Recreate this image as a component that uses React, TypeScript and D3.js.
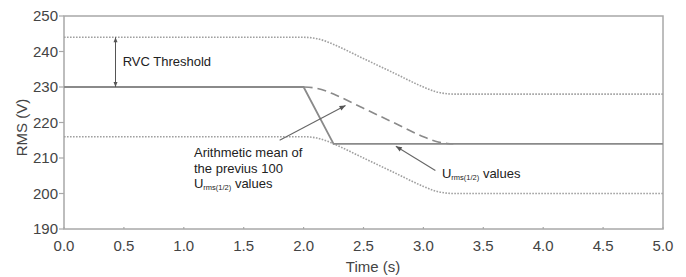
import React from "react";
import * as d3 from "d3";

const W = 686;
const H = 277;
const margin = { top: 16, right: 23, bottom: 48, left: 64 };

const xTicks = [0, 0.5, 1.0, 1.5, 2.0, 2.5, 3.0, 3.5, 4.0, 4.5, 5.0];
const yTicks = [190, 200, 210, 220, 230, 240, 250];

// U_rms(1/2) values (solid)
const solidTime = [0, 2.0, 2.25, 5.0];
const solidValue = [230, 230, 214, 214];

// Arithmetic mean of previous 100 values (dashed)
const meanTime = [2.0, 2.1, 2.2, 2.25, 2.5, 2.75, 3.0, 3.1, 3.2, 3.25];
const meanValue = [230, 229.7, 228.7, 228, 224, 220, 216, 214.7, 214.1, 214];

// Threshold envelopes (dotted)
const envTime = [0, 2.0, 2.1, 2.2, 2.25, 2.5, 2.75, 3.0, 3.1, 3.2, 3.25, 5.0];
const upperValue = [244, 244, 243.7, 242.7, 242, 238, 234, 230, 228.7, 228.1, 228, 228];
const lowerValue = [216, 216, 215.7, 214.7, 214, 210, 206, 202, 200.7, 200.1, 200, 200];

export default function App() {
  React.useEffect(() => {
    document.body.style.margin = "0";
  }, []);

  const x = d3.scaleLinear().domain([0, 5]).range([margin.left, W - margin.right]);
  const y = d3.scaleLinear().domain([190, 250]).range([H - margin.bottom, margin.top]);

  const line = d3
    .line<[number, number]>()
    .x((d) => x(d[0]))
    .y((d) => y(d[1]))
    .curve(d3.curveMonotoneX);
  const lineLin = d3
    .line<[number, number]>()
    .x((d) => x(d[0]))
    .y((d) => y(d[1]));

  const zip = (a: number[], b: number[]) => a.map((t, i) => [t, b[i]] as [number, number]);

  const axisColor = "#a8a8a8";
  const tickColor = "#444";
  const font = "'Liberation Sans', Arial, sans-serif";
  const x0 = x(0), x1 = x(5), y0 = y(190), y1 = y(250);

  // arrow helper
  const arrowHead = (fx: number, fy: number, tx: number, ty: number, len = 6, wid = 2.5) => {
    const ang = Math.atan2(ty - fy, tx - fx);
    const bx = tx - len * Math.cos(ang);
    const by = ty - len * Math.sin(ang);
    const px = -Math.sin(ang) * wid;
    const py = Math.cos(ang) * wid;
    return `M${tx},${ty}L${bx + px},${by + py}L${bx - px},${by - py}Z`;
  };

  const a1 = { fx: x(1.8), fy: y(215.0), tx: x(2.35), ty: y(224.8) };
  const a2 = { fx: x(3.1), fy: y(206.5), tx: x(2.77), ty: y(213.3) };
  const va = { x: x(0.43), top: y(244), bot: y(230) };

  return (
    <svg width={W} height={H} style={{ display: "block", background: "#fff" }}>
      {/* frame */}
      <rect x={x0} y={y1} width={x1 - x0} height={y0 - y1} fill="none" stroke={axisColor} strokeWidth={1.5} />

      {/* y ticks */}
      {yTicks.map((t) => (
        <g key={"y" + t}>
          <line x1={x0 - 5} x2={x0} y1={y(t)} y2={y(t)} stroke={axisColor} strokeWidth={1.2} />
          <text x={x0 - 6} y={y(t)} dy="0.35em" textAnchor="end" fontSize={15} fill={tickColor} fontFamily={font}>
            {t}
          </text>
        </g>
      ))}
      {/* x ticks */}
      {xTicks.map((t) => (
        <g key={"x" + t}>
          <line x1={x(t)} x2={x(t)} y1={y0} y2={y0 - 2} stroke={axisColor} strokeWidth={1.2} />
          <text x={x(t)} y={y0 + 17} dy="0.35em" textAnchor="middle" fontSize={15} fill={tickColor} fontFamily={font}>
            {t.toFixed(1)}
          </text>
        </g>
      ))}

      <text
        transform={`translate(22,${(y0 + y1) / 2 + 5}) rotate(-90)`}
        textAnchor="middle"
        dy="0.35em"
        fontSize={15}
        fill={tickColor}
        fontFamily={font}
      >
        RMS (V)
      </text>
      <text x={373} y={267} dy="0.35em" textAnchor="middle" fontSize={15} fill={tickColor} fontFamily={font}>
        Time (s)
      </text>

      {/* envelopes */}
      <path d={line(zip(envTime, upperValue)) || ""} fill="none" stroke="#a0a0a0" strokeWidth={1.6} strokeDasharray="1.6,1.4" />
      <path d={line(zip(envTime, lowerValue)) || ""} fill="none" stroke="#a0a0a0" strokeWidth={1.6} strokeDasharray="1.6,1.4" />

      {/* solid values */}
      <path d={lineLin(zip(solidTime, solidValue)) || ""} fill="none" stroke="#8a8a8a" strokeWidth={1.8} />

      {/* mean dashed */}
      <path d={line(zip(meanTime, meanValue)) || ""} fill="none" stroke="#8a8a8a" strokeWidth={1.6} strokeDasharray="9,5" />

      {/* RVC threshold arrow */}
      <line x1={va.x} x2={va.x} y1={va.top} y2={va.bot} stroke="#555" strokeWidth={1} />
      <path d={arrowHead(va.x, va.bot, va.x, va.top, 5, 2)} fill="#555" />
      <path d={arrowHead(va.x, va.top, va.x, va.bot, 5, 2)} fill="#555" />
      <text x={x(0.49)} y={y(237.2)} dy="0.35em" fontSize={13} fill="#222" fontFamily={font}>
        RVC Threshold
      </text>

      {/* mean annotation */}
      <line x1={a1.fx} y1={a1.fy} x2={a1.tx} y2={a1.ty} stroke="#666" strokeWidth={1.1} />
      <path d={arrowHead(a1.fx, a1.fy, a1.tx, a1.ty)} fill="#555" />
      <text fontSize={13} fill="#222" fontFamily={font}>
        <tspan x={x(1.085)} y={y(211.6)} dy="0.35em">Arithmetic mean of</tspan>
        <tspan x={x(1.085)} y={y(207.1)} dy="0.35em">the previus 100</tspan>
      </text>
      <text x={x(1.085)} y={y(202.8)} dy="0.35em" fontSize={13} fill="#222" fontFamily={font}>
        U<tspan fontSize={7.5} dy="2">rms(1/2)</tspan>
        <tspan dy="-2"> values</tspan>
      </text>

      {/* Urms annotation */}
      <line x1={a2.fx} y1={a2.fy} x2={a2.tx} y2={a2.ty} stroke="#666" strokeWidth={1.1} />
      <path d={arrowHead(a2.fx, a2.fy, a2.tx, a2.ty)} fill="#555" />
      <text x={x(3.155)} y={y(205.7)} dy="0.35em" fontSize={13} fill="#222" fontFamily={font}>
        U<tspan fontSize={7.5} dy="2">rms(1/2)</tspan>
        <tspan dy="-2"> values</tspan>
      </text>
    </svg>
  );
}
